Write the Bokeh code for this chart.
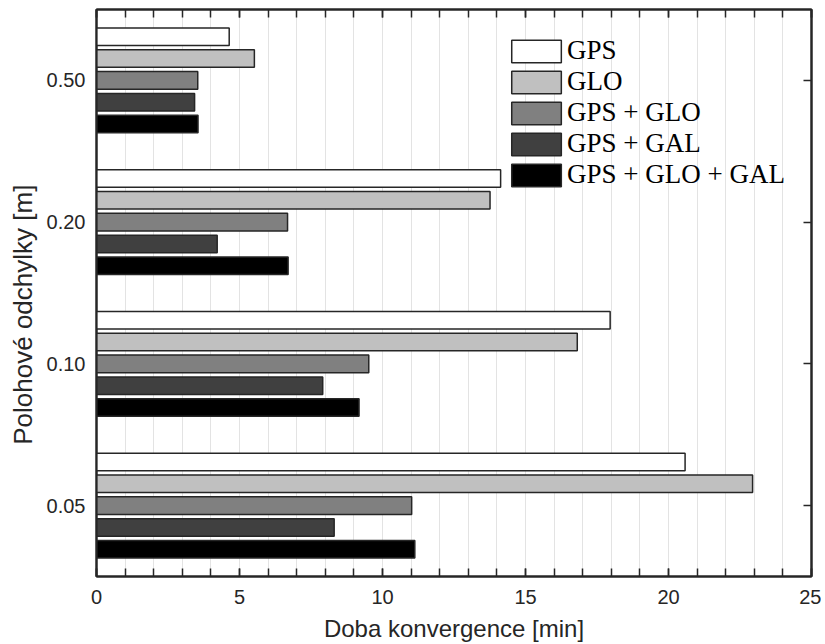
from bokeh.plotting import figure
from bokeh.models import (ColumnDataSource, FactorRange, Range1d, FixedTicker,
                          CategoricalAxis, LinearAxis, Legend, LegendItem)
from bokeh.transform import dodge
from bokeh.embed import file_html
from bokeh.resources import INLINE

categories = ["0.05", "0.10", "0.20", "0.50"]
gps = [20.58, 17.96, 14.13, 4.64]
glo = [22.94, 16.81, 13.76, 5.52]
gps_glo = [11.02, 9.52, 6.68, 3.54]
gps_gal = [8.31, 7.91, 4.22, 3.43]
gps_glo_gal = [11.13, 9.18, 6.70, 3.55]

series_names = ["GPS", "GLO", "GPS + GLO", "GPS + GAL", "GPS + GLO + GAL"]
series_keys = ["gps", "glo", "gps_glo", "gps_gal", "gps_glo_gal"]
series_colors = ["#ffffff", "#c0c0c0", "#808080", "#404040", "#000000"]
offsets = [0.308, 0.154, 0.0, -0.154, -0.308]

x_major = [0, 5, 10, 15, 20, 25]
x_minor = list(range(0, 26))

source = ColumnDataSource(dict(cat=categories, gps=gps, glo=glo, gps_glo=gps_glo,
                               gps_gal=gps_gal, gps_glo_gal=gps_glo_gal))

p = figure(width=821, height=644,
           y_range=FactorRange(factors=categories, range_padding=0),
           x_range=Range1d(0, 25),
           output_backend="svg", toolbar_location=None,
           min_border_left=96, min_border_right=10, min_border_top=9, min_border_bottom=60)

items = []
for name, key, col, off in zip(series_names, series_keys, series_colors, offsets):
    r = p.hbar(y=dodge("cat", off, range=p.y_range), right=key, left=0, height=0.124,
               source=source, fill_color=col, line_color="#262626", line_width=1.5)
    items.append(LegendItem(label=name, renderers=[r]))

dark = "#262626"
ticker = FixedTicker(ticks=x_major, minor_ticks=x_minor)

xa = p.xaxis[0]
xa.ticker = ticker
xa.axis_label = "Doba konvergence [min]"
ya = p.yaxis[0]
ya.axis_label = "Polohové odchylky [m]" + "\u00a0" * 6

for ax in (xa, ya):
    ax.axis_label_text_font = "Liberation Sans"
    ax.axis_label_text_font_style = "normal"
    ax.axis_label_text_color = dark
    ax.major_label_text_font = "Liberation Sans"
    ax.major_label_text_font_size = "20px"
    ax.major_label_text_color = dark
    ax.axis_line_color = dark
    ax.axis_line_width = 2
    ax.major_tick_line_color = dark
    ax.minor_tick_line_color = dark
    ax.major_tick_line_width = 1.5
    ax.minor_tick_line_width = 1.5
    ax.major_tick_out = 0
    ax.minor_tick_out = 0

xa.axis_label_text_font_size = "24px"
ya.axis_label_text_font_size = "26px"
xa.major_tick_in = 8
xa.minor_tick_in = 8
xa.major_label_standoff = 13
xa.axis_label_standoff = 8
ya.major_tick_in = 0
ya.major_label_standoff = 11
ya.axis_label_standoff = 6

top = LinearAxis(ticker=FixedTicker(ticks=x_major, minor_ticks=x_minor),
                 major_label_text_font_size="1px", major_label_text_color=None,
                 major_label_standoff=0,
                 major_tick_in=8, minor_tick_in=8, major_tick_out=0, minor_tick_out=0,
                 axis_line_color=dark, axis_line_width=2,
                 major_tick_line_color=dark, minor_tick_line_color=dark,
                 major_tick_line_width=1.5, minor_tick_line_width=1.5)
p.add_layout(top, "above")

right = CategoricalAxis(major_label_text_font_size="1px", major_label_text_color=None,
                        major_label_standoff=0,
                        major_tick_in=8, major_tick_out=0,
                        axis_line_color=dark, axis_line_width=2,
                        major_tick_line_color=dark, major_tick_line_width=1.5)
p.add_layout(right, "right")

p.xgrid.ticker = ticker
p.xgrid.grid_line_color = "#e3e3e3"
p.xgrid.grid_line_width = 1
p.xgrid.minor_grid_line_color = "#e3e3e3"
p.xgrid.minor_grid_line_width = 1
p.ygrid.grid_line_color = None
p.outline_line_color = dark
p.outline_line_width = 2

legend = Legend(items=items, location="top_right", margin=26, padding=0, spacing=0,
                glyph_width=62, glyph_height=28, label_standoff=0,
                label_text_font="Liberation Serif", label_text_font_size="27px",
                label_text_color="#000000",
                border_line_color=None, background_fill_alpha=0)
p.add_layout(legend)

open("out.html", "w").write(file_html(p, INLINE))
